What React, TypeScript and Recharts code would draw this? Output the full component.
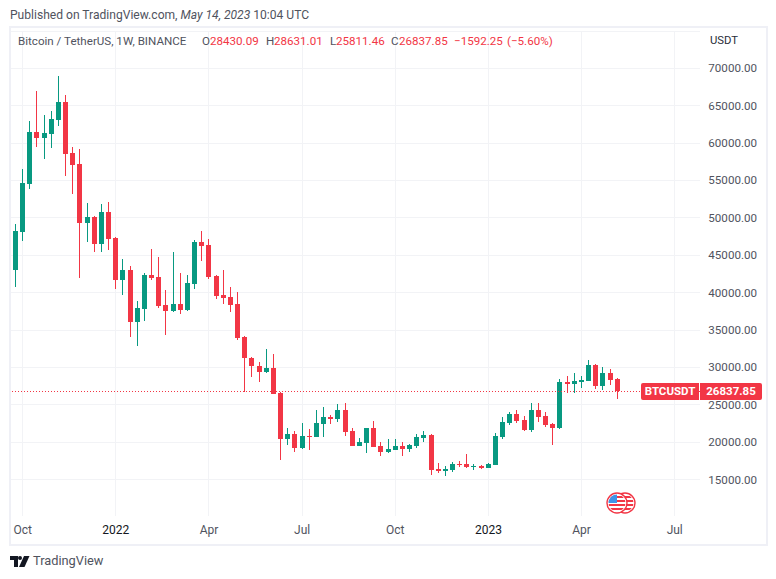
import React from "react";
import { ComposedChart, Bar, XAxis, YAxis, CartesianGrid, ReferenceLine } from "recharts";

const opens = [43050,48140,54560,61480,60720,61250,63130,65490,58670,57190,49340,50100,46530,50770,47290,41720,43010,36090,37830,42340,42070,38330,37520,38460,37700,41180,46760,46350,42210,39660,39400,38460,34040,31300,30250,29360,29890,26570,20460,21090,19260,20820,20680,22420,23360,23090,24300,21490,19480,19880,21890,19480,18680,18940,19480,19080,19480,20550,20950,16400,16130,16270,17070,17070,16760,16800,16540,16940,20680,22560,23760,22980,21650,24320,23450,22450,21910,28070,27800,28070,28200,30340,27530,29270,28430.09];
const highs = [49160,56520,62950,66960,63750,64290,68970,66430,59470,59200,51970,50190,51840,52110,47510,44480,43540,38860,42610,45820,44750,40330,45420,42610,42340,47020,48230,47160,42340,43010,40730,40060,34180,31370,30700,32440,31770,26750,21890,21490,22560,21750,24300,24700,23630,25100,25230,21890,20550,21890,22820,20010,20420,20420,20010,19750,21090,21490,21090,17210,16800,17340,17470,18410,17070,16940,17210,21220,23360,24030,24300,23520,25260,25260,24050,22580,28470,28870,29270,28870,31010,30480,30080,29810,28631.01];
const lows = [40780,46930,53890,59510,57910,59380,62320,55630,53220,41980,46800,45460,45460,45730,40470,39660,34090,32880,36230,41720,37970,34360,37430,37170,37570,40510,44210,41800,39170,38500,37430,33690,26730,28730,28070,29230,26420,17610,19610,18680,19080,18940,20680,20680,22420,22690,20820,19480,19480,18540,19350,18140,18540,18940,18140,18680,19210,20010,15600,15870,15470,16000,16670,16540,16270,16400,16540,16940,20420,22290,22560,21510,21380,22720,22050,19640,21780,26600,26600,27270,28200,27130,27000,27670,25811.46];
const closes = [48230,54650,61480,60720,61340,63220,65490,58580,57100,49340,50100,46530,50770,47200,41720,43010,36090,37920,42340,41940,38240,37570,38460,37700,41270,46760,46220,42070,39570,39310,38370,33950,31280,30210,29400,29890,26460,20460,21090,19260,20820,20680,22560,23360,23090,24300,21350,19480,20010,21890,19350,18680,19080,19480,19080,19610,20680,20950,16270,16130,16400,17070,16940,16670,16850,16580,17070,20820,22690,23760,22820,21650,24320,23390,22320,21910,28070,27800,28200,28340,30340,27530,29270,28340,26837.85];

const priceTicks = [15000,20000,25000,30000,35000,40000,45000,50000,55000,60000,65000,70000];
const timeTicks = [1,14,27,40,53,66,79,92];
const timeLabels = ["Oct","2022","Apr","Jul","Oct","2023","Apr","Jul"];
const lastPrice = 26837.85;
const symbol = "BTCUSDT";

const UP = "#089981";
const DOWN = "#F23645";
const GRID = "#F2F3F6";
const BORDER = "#EFF0F6";
const FONT = "Roboto, sans-serif";
const X_DOMAIN = [-0.628, 95.53];

const rows = opens.map((o, i) => ({
  week: i,
  wick: [lows[i], highs[i]],
  body: [Math.min(o, closes[i]), Math.max(o, closes[i])],
  up: closes[i] >= o,
}));

const CandlePart = (p: any) => {
  const left = Math.round(p.x);
  const top = Math.round(p.y);
  const bottom = Math.round(p.y + p.height);
  return (
    <rect x={left} y={top} width={Math.round(p.width)} height={Math.max(1, bottom - top)}
      fill={p.payload.up ? UP : DOWN} shapeRendering="crispEdges" />
  );
};

const TimeTick = (p: any) => {
  const idx = timeTicks.indexOf(p.payload.value);
  const label = timeLabels[idx];
  const year = /^\d/.test(label);
  return (
    <text x={p.x} y={534} textAnchor="middle" fontFamily={FONT} fontSize={12} fill={year ? "#131722" : "#50535E"}>
      {label}
    </text>
  );
};

const PriceTick = (p: any) => (
  <text x={757} y={p.y + 4} textAnchor="end" fontFamily={FONT} fontSize={11.6} fill="#50535E">
    {Number(p.payload.value).toFixed(2)}
  </text>
);

const abs = (x: number, y: number, extra: any = {}) => ({
  position: "absolute" as const,
  left: x,
  top: y,
  whiteSpace: "nowrap" as const,
  lineHeight: "14px",
  fontFamily: FONT,
  fontSize: 11.6,
  ...extra,
});

const legend: [string, number, string][] = [
  ["Bitcoin / TetherUS, 1W, BINANCE", 18, "#50535E"],
  ["O", 202, "#50535E"],
  ["28430.09", 210, DOWN],
  ["H", 266, "#50535E"],
  ["28631.01", 274, DOWN],
  ["L", 330, "#50535E"],
  ["25811.46", 336, DOWN],
  ["C", 391, "#50535E"],
  ["26837.85", 399, DOWN],
  ["\u22121592.25", 454, DOWN],
  ["(\u22125.60%)", 507, DOWN],
];

const FlagBadge = () => (
  <svg style={{ position: "absolute", left: 604, top: 491 }} width={34} height={24}>
    <defs>
      <clipPath id="flagA"><circle cx={13} cy={12} r={8.5} /></clipPath>
      <clipPath id="flagB"><circle cx={21} cy={12} r={8.5} /></clipPath>
    </defs>
    {[21, 13].map((cx, k) => (
      <g key={cx}>
        <circle cx={cx} cy={12} r={10} fill="#fff" stroke={DOWN} strokeWidth={1.4} />
        <g clipPath={`url(#${k === 0 ? "flagB" : "flagA"})`}>
          <rect x={cx - 9} y={3} width={18} height={18} fill="#fff" />
          <rect x={cx - 9} y={5} width={18} height={2} fill={DOWN} />
          <rect x={cx - 9} y={9} width={18} height={2} fill={DOWN} />
          <rect x={cx - 9} y={13} width={18} height={2} fill={DOWN} />
          <rect x={cx - 9} y={17} width={18} height={2} fill={DOWN} />
          {k === 1 && <rect x={cx - 9} y={3} width={9} height={9} fill="#3E94E8" />}
        </g>
      </g>
    ))}
  </svg>
);

const App = () => (
  <div style={{ position: "fixed", left: 0, top: 0, width: 776, height: 579, background: "#fff", overflow: "hidden" }}>
    <div style={{ position: "absolute", left: 9, top: 26, width: 755, height: 516, border: `2px solid ${BORDER}` }} />
    <div style={{ position: "absolute", left: 11, top: 31, width: 689, height: 1, background: GRID }} />
    <div style={{ position: "absolute", left: 0, top: 0 }}>
      <ComposedChart width={776} height={579} data={rows} margin={{ top: 31, right: 0, bottom: 0, left: 11 }}>
        <CartesianGrid stroke={GRID} strokeWidth={1} verticalValues={timeTicks} horizontalValues={priceTicks} xAxisId="w" shapeRendering="crispEdges" />
        <XAxis xAxisId="w" dataKey="week" type="number" domain={X_DOMAIN} ticks={timeTicks} height={63} axisLine={false} tickLine={false} tick={TimeTick} interval={0} allowDataOverflow />
        <XAxis xAxisId="b" dataKey="week" type="number" domain={X_DOMAIN} hide allowDataOverflow />
        <YAxis xAxisId="w" orientation="right" width={76} domain={[10136, 74990]} ticks={priceTicks} axisLine={false} tickLine={false} tick={PriceTick} interval={0} allowDataOverflow />
        <ReferenceLine xAxisId="w" y={lastPrice} stroke={DOWN} strokeWidth={1} strokeDasharray="1 2" shapeRendering="crispEdges" />
        <Bar xAxisId="w" dataKey="wick" barSize={1} isAnimationActive={false} shape={CandlePart} />
        <Bar xAxisId="b" dataKey="body" barSize={5} isAnimationActive={false} shape={CandlePart} />
      </ComposedChart>
    </div>

    <div style={abs(10, 8, { color: "#50535E", fontSize: 12.08 })}>
      Published on TradingView.com, <i>May 14, 2023</i> 10:04 UTC
    </div>
    {legend.map(([t, x, c]) => (
      <div key={x} style={abs(x, 34, { color: c })}>{t}</div>
    ))}
    <div style={abs(710, 34, { color: "#2A2E39", fontSize: 11.3 })}>USDT</div>

    <div style={{ ...abs(641, 383, { background: DOWN, color: "#fff", fontWeight: 700, fontSize: 11.5, lineHeight: "17px", height: 17, width: 58, textAlign: "center", borderRadius: "2px 0 0 2px" }) }}>{symbol}</div>
    <div style={{ ...abs(700, 383, { background: DOWN, color: "#fff", fontWeight: 700, fontSize: 11.5, lineHeight: "17px", height: 17, width: 62, textAlign: "center", borderRadius: "0 2px 2px 0" }) }}>{lastPrice.toFixed(2)}</div>

    <FlagBadge />

    <svg style={{ position: "absolute", left: 10, top: 556 }} width={20} height={11}>
      <path d="M0 0H8V11H4V4H0Z" fill="#131722" />
      <circle cx={10} cy={2} r={2} fill="#131722" />
      <path d="M14 0H19.5L14.5 11H9Z" fill="#131722" />
    </svg>
    <div style={abs(33, 553, { color: "#50535E", fontSize: 12.8, lineHeight: "16px" })}>TradingView</div>
  </div>
);

export default App;
